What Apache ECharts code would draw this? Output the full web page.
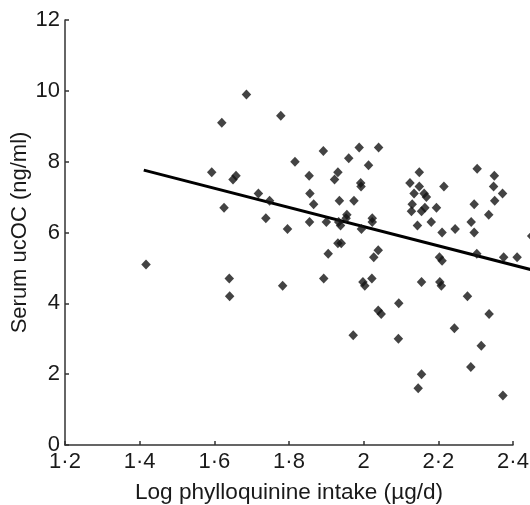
<!DOCTYPE html>
<html>
<head>
<meta charset="utf-8">
<script src="https://cdn.jsdelivr.net/npm/echarts@6/dist/echarts.min.js"></script>
<style>
html,body{margin:0;padding:0;background:#fff;}
#chart{width:530px;height:505px;}
</style>
</head>
<body>
<div id="chart"></div>
<script>
// Log phylloquinine intake (µg/d)
const xValues = [
  1.417,1.593,1.620,1.626,1.650,1.658,1.640,1.641,1.686,1.718,
  1.748,1.738,1.778,1.783,1.796,1.816,1.854,1.856,1.866,1.855,
  1.892,1.900,1.893,1.905,1.922,1.931,1.935,1.931,1.940,1.933,
  1.938,1.955,1.953,1.960,1.974,1.988,1.992,1.993,1.994,1.972,
  1.998,2.003,2.013,2.023,2.023,2.027,2.039,2.040,2.022,2.039,
  2.047,2.094,2.093,2.124,2.135,2.130,2.128,2.149,2.149,2.162,
  2.168,2.155,2.164,2.144,2.181,2.195,2.215,2.210,2.155,2.203,
  2.210,2.204,2.208,2.146,2.155,2.243,2.245,2.278,2.287,2.315,
  2.288,2.296,2.296,2.304,2.303,2.336,2.335,2.350,2.348,2.351,
  2.372,2.375,2.373,2.411,2.450
];
// Serum ucOC (ng/ml)
const yValues = [
  5.1,7.7,9.1,6.7,7.5,7.6,4.7,4.2,9.9,7.1,
  6.9,6.4,9.3,4.5,6.1,8.0,7.6,7.1,6.8,6.3,
  8.3,6.3,4.7,5.4,7.5,7.7,6.9,5.7,5.7,6.3,
  6.2,6.5,6.4,8.1,6.9,8.4,7.4,7.3,6.1,3.1,
  4.6,4.5,7.9,6.4,6.3,5.3,5.5,8.4,4.7,3.8,
  3.7,4.0,3.0,7.4,7.1,6.8,6.6,7.7,7.3,7.1,
  7.0,6.6,6.7,6.2,6.3,6.7,7.3,6.0,4.6,5.3,
  5.2,4.6,4.5,1.6,2.0,3.3,6.1,4.2,2.2,2.8,
  6.3,6.0,6.8,7.8,5.4,3.7,6.5,7.6,7.3,6.9,
  7.1,5.3,1.4,5.3,5.9
];
// Fitted regression line end points [x, y]
const fitStart = [1.411, 7.76];
const fitEnd = [2.50, 4.81];

const xTicks = { min: 1.2, max: 2.4, interval: 0.2 };
const yTicks = { min: 0, max: 12, interval: 2 };

const points = xValues.map((x, i) => [x, yValues[i]]);
const fmtDot = v => (Math.round(v * 10) / 10).toString().replace('.', '\u00B7');

const FONT = 'Liberation Sans, Arial, sans-serif';
const axisCol = '#333';
const txtCol = '#1a1a1a';

const chart = echarts.init(document.getElementById('chart'), null, { renderer: 'canvas' });
chart.setOption({
  animation: false,
  backgroundColor: '#fff',
  grid: { left: 65, right: 17, top: 20, bottom: 60, containLabel: false, outerBoundsMode: 'none' },
  xAxis: {
    type: 'value',
    min: xTicks.min, max: xTicks.max, interval: xTicks.interval,
    name: 'Log phylloquinine intake (\u00B5g/d)',
    nameLocation: 'middle',
    nameGap: 36,
    nameMoveOverlap: false,
    nameTextStyle: { fontFamily: FONT, fontSize: 22.6, color: txtCol },
    axisLine: { show: true, onZero: false, lineStyle: { color: axisCol, width: 1.5 } },
    axisTick: { show: true, inside: true, length: 4, lineStyle: { color: axisCol, width: 1.5 } },
    axisLabel: { fontFamily: FONT, fontSize: 22, color: txtCol, margin: 6, formatter: fmtDot, hideOverlap: false },
    splitLine: { show: false }
  },
  yAxis: {
    type: 'value',
    min: yTicks.min, max: yTicks.max, interval: yTicks.interval,
    name: 'Serum ucOC (ng/ml)',
    nameLocation: 'middle',
    nameGap: 34,
    nameRotate: 90,
    nameMoveOverlap: false,
    nameTextStyle: { fontFamily: FONT, fontSize: 22, color: txtCol },
    axisLine: { show: true, onZero: false, lineStyle: { color: axisCol, width: 1.5 } },
    axisTick: { show: true, inside: true, length: 4, lineStyle: { color: axisCol, width: 1.5 } },
    axisLabel: { fontFamily: FONT, fontSize: 22, color: txtCol, margin: 5 },
    splitLine: { show: false }
  },
  series: [
    {
      type: 'custom',
      data: [[fitStart[0], fitStart[1], fitEnd[0], fitEnd[1]]],
      clip: false,
      z: 3,
      renderItem: function (params, api) {
        const p1 = api.coord([api.value(0), api.value(1)]);
        const p2 = api.coord([api.value(2), api.value(3)]);
        return {
          type: 'line',
          shape: { x1: p1[0], y1: p1[1], x2: p2[0], y2: p2[1] },
          style: { stroke: '#000', lineWidth: 3 }
        };
      }
    },
    {
      type: 'scatter',
      data: points,
      clip: false,
      symbol: 'diamond',
      symbolSize: [9.5, 10],
      itemStyle: { color: '#141414' },
      z: 4
    }
  ]
});
</script>
</body>
</html>
